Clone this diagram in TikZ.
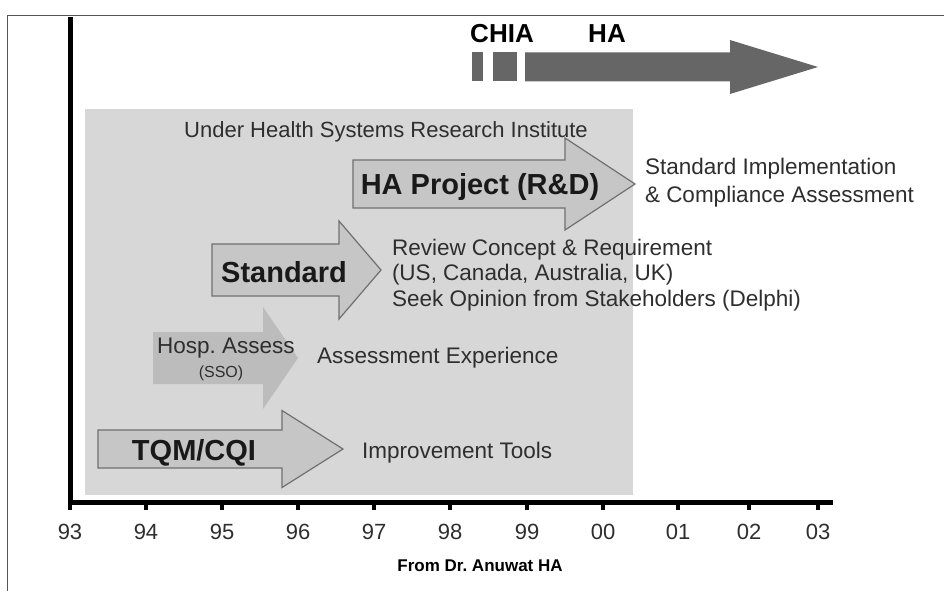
\documentclass[tikz,border=0pt]{standalone}
\usepackage{fontspec}
\setmainfont{Liberation Sans}
\usetikzlibrary{positioning}

\definecolor{panelgray}{HTML}{D7D7D7}
\definecolor{arrowgray}{HTML}{C6C6C6}
\definecolor{edgegray}{HTML}{707070}
\definecolor{softgray}{HTML}{BCBCBC}
\definecolor{timegray}{HTML}{666666}
\definecolor{textgray}{HTML}{2E2E2E}
\definecolor{framegray}{HTML}{555555}

% block arrow: style, tail x, head base x, tip x, mid y, shaft half, head half
\newcommand{\blockarrow}[7]{%
  \path[#1] (#2,#5-#6) -- (#3,#5-#6) -- (#3,#5-#7) -- (#4,#5)
    -- (#3,#5+#7) -- (#3,#5+#6) -- (#2,#5+#6) -- cycle;}

\begin{document}
\begin{tikzpicture}[
    x=1pt, y=-1pt,
    every node/.style={inner sep=0pt, outer sep=0pt},
    panel/.style={fill=panelgray},
    stagearrow/.style={fill=arrowgray, draw=edgegray, line width=1.2pt, line join=miter},
    softarrow/.style={fill=softgray},
    timearrow/.style={fill=timegray},
    stagelbl/.style={font=\bfseries\fontsize{29}{32}\selectfont, text=black!90, anchor=base},
    notelbl/.style={font=\fontsize{22.5}{27}\selectfont, text=textgray, anchor=base west},
    ticklbl/.style={font=\fontsize{22}{26}\selectfont, text=textgray, anchor=base},
    axis/.style={line width=5pt, black},
    tickmark/.style={line width=4pt, black}
]
\useasboundingbox (0,0) rectangle (944,591);

% outer frame
\draw[framegray, line width=1pt] (944,15.5) -- (7.5,15.5) -- (7.5,591);

% shaded period
\fill[panel] (85,109) rectangle (633,495);
\node[font=\fontsize{22}{26}\selectfont, text=textgray, anchor=base] (hsri) at (386,137) {Under Health Systems Research Institute};

% organisation timeline on top
\fill[timearrow] (472,52.5) rectangle (483,81.5);
\fill[timearrow] (493,52.5) rectangle (517,81.5);
\blockarrow{timearrow}{525}{730}{818}{67}{14.5}{27}
\node[font=\bfseries\fontsize{26}{30}\selectfont, anchor=base] (chia) at (502,43) {CHIA};
\node[font=\bfseries\fontsize{26}{30}\selectfont, anchor=base] (ha) at (607,43) {HA};

% stages
\blockarrow{stagearrow}{98}{282}{343}{449}{19}{38.5}
\blockarrow{softarrow}{153}{263}{298}{358}{26}{51}
\blockarrow{stagearrow}{212}{339}{381}{270}{26}{49}
\blockarrow{stagearrow}{353}{565}{635}{184}{24}{46}

\node[stagelbl] (tqm) at (194,460) {TQM/CQI};
\node[font=\fontsize{22.5}{27}\selectfont, text=textgray, anchor=base] (hosp) at (226,353) {Hosp.\ Assess};
\node[font=\fontsize{16}{19}\selectfont, text=textgray, anchor=base] (sso) at (221,377) {(SSO)};
\node[stagelbl] (std) at (284,282) {Standard};
\node[stagelbl] (proj) at (480,194) {HA Project (R\&D)};

% what each stage brought
\node[notelbl] (tools) at (362,458) {Improvement Tools};
\node[notelbl] (exper) at (317,363) {Assessment Experience};
\node[notelbl] (review) at (392,255) {Review Concept \& Requirement};
\node[notelbl] (countries) at (392,280) {(US, Canada, Australia, UK)};
\node[notelbl] (delphi) at (392,306) {Seek Opinion from Stakeholders (Delphi)};
\node[notelbl] (impl) at (645,174) {Standard Implementation};
\node[notelbl] (compl) at (645,202) {\& Compliance Assessment};

% axes
\draw[axis] (70,17) -- (70,502) -- (833,502);
\foreach \x/\yr in {70/93, 146/94, 222/95, 298/96, 374/97, 450/98, 527/99, 603/00, 678/01, 749/02, 818/03}
  \draw[tickmark] (\x,502) -- (\x,510) node[ticklbl] (yr\yr) at (\x,539) {\yr};

\node[font=\bfseries\fontsize{17}{20}\selectfont, anchor=base] (src) at (480,571) {From Dr.\ Anuwat HA};

\end{tikzpicture}
\end{document}
